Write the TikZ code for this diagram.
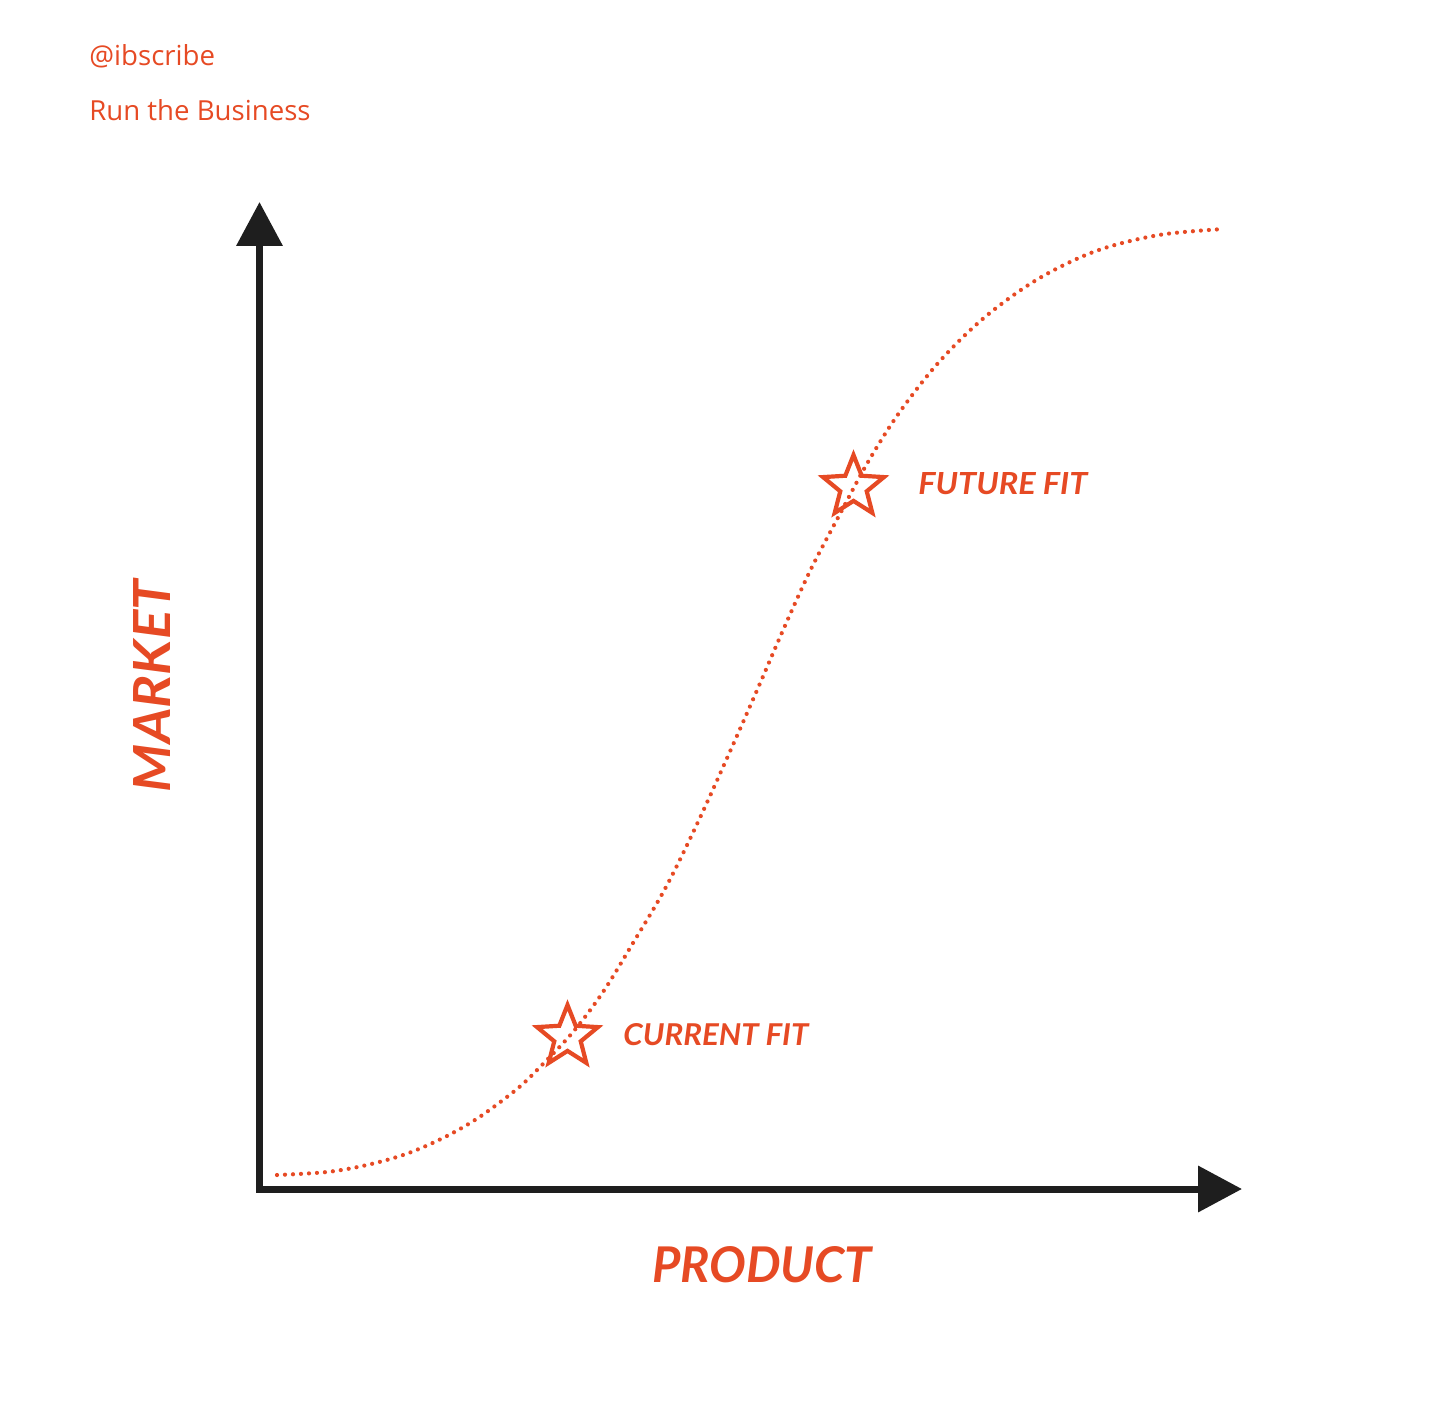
\documentclass[tikz,border=0pt]{standalone}
\usepackage{fontspec}
\usepackage{graphicx}
\setmainfont{Open Sans}
\newfontfamily\handfont{Lato}
\usetikzlibrary{arrows.meta,shapes.geometric}
\definecolor{brand}{HTML}{E64A24}
\definecolor{axisgray}{HTML}{1E1E1E}
\tikzset{
  axisline/.style={draw=axisgray, line width=3.5pt, line join=miter,
    {Triangle[length=22pt,width=22.5pt]}-{Triangle[length=22pt,width=22.5pt]}},
  sigmoid/.style={draw=brand, line width=2.1pt, line cap=round, dash pattern=on 0pt off 4pt},
  fitstar/.style={star, star points=5, star point ratio=2.3, draw=brand, line width=2.1pt,
    minimum size=32pt, inner sep=0pt},
  header/.style={anchor=base west, inner sep=0pt, text=brand, font=\fontsize{13.8pt}{16pt}\selectfont},
  handlabel/.style={inner sep=0pt, text=brand, font=\handfont\bfseries\itshape}
}
\begin{document}
\begin{tikzpicture}[x=0.5pt,y=-0.5pt]
\useasboundingbox (0,0) rectangle (1456,1406);
% header
\node[header] (handle) at (89,66) {@ibscribe};
\node[header] (title) at (89,121) {Run the Business};
% axes
\coordinate (O) at (259.5,1189);
\coordinate (ytip) at (259.5,202);
\coordinate (xtip) at (1242,1189);
\draw[axisline] (ytip) -- (O) -- (xtip);
% S-curve
\draw[sigmoid] plot[smooth, tension=0.55] coordinates {
 (277,1175) (327,1172) (367,1165) (406,1154) (443,1138) (478,1118) (517,1089)
 (541,1066) (573,1032) (603,992) (633,943) (666,887) (698,822) (732,747)
 (758,688) (784,628) (811,569) (841,512) (868,462) (899,413) (939,362)
 (985,317) (1038,279) (1096,251) (1159,235) (1224,229)};
% stars
\node[fitstar] (cur) at (567.5,1037) {};
\node[fitstar] (fut) at (853.5,487) {};
% labels
\node[handlabel, anchor=west] (curlabel) at (623,1035) {\resizebox{92.5pt}{11pt}{CURRENT FIT}};
\node[handlabel, anchor=west] (futlabel) at (918,484) {\resizebox{84.5pt}{11pt}{FUTURE FIT}};
\node[handlabel] (xlabel) at (762,1265) {\resizebox{110pt}{18pt}{PRODUCT}};
\node[handlabel, rotate=90] (ylabel) at (152,686) {\resizebox{106pt}{18.5pt}{MARKET}};
\end{tikzpicture}
\end{document}
